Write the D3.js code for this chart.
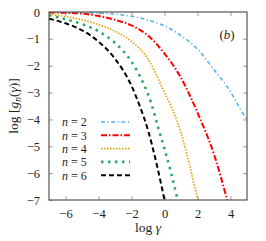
<!DOCTYPE html>
<html>
<head>
<meta charset="utf-8">
<script src="https://cdn.jsdelivr.net/npm/d3@7"></script>
<style>
  body { margin: 0; background: #fff; }
  text { font-family: "Liberation Serif", "DejaVu Serif", serif; }
</style>
</head>
<body>
<svg id="chart" width="266" height="241"></svg>
<script>
// values (log gamma, log g_n)
const logGamma2 = [-7, -5, -4, -3, -2, -1, 0, 1, 2, 3, 4, 4.5, 5];
const logG2 = [-0.01, -0.02, -0.04, -0.08, -0.16, -0.3, -0.52, -0.88, -1.38, -2.15, -2.97, -3.52, -4.02];
const logGamma3 = [-7, -6, -5, -4, -3, -2, -1, 0, 1, 2, 3, 3.8];
const logG3 = [-0.02, -0.03, -0.06, -0.15, -0.29, -0.5, -0.88, -1.55, -2.45, -3.75, -5.3, -7];
const logGamma4 = [-7, -6, -5, -4, -3, -2, -1, 0, 0.5, 1, 1.5, 2, 2.05];
const logG4 = [-0.08, -0.17, -0.29, -0.47, -0.72, -1.1, -1.75, -3.0, -3.65, -4.5, -5.65, -6.9, -7];
const logGamma5 = [-7, -6, -5, -4, -3, -2, -1.2, -0.8, -0.4, 0, 0.4, 0.8];
const logG5 = [-0.12, -0.27, -0.45, -0.72, -1.15, -1.85, -2.77, -3.4, -4.27, -5.1, -6.0, -7.0];
const logGamma6 = [-7, -6, -5, -4, -3, -2, -1.5, -1, -0.5, 0];
const logG6 = [-0.25, -0.42, -0.68, -1.1, -1.74, -2.75, -3.5, -4.4, -5.6, -7];

const seriesN = ['2', '3', '4', '5', '6'];
const xTicks = [-6, -4, -2, 0, 2, 4];
const yTicks = [0, -1, -2, -3, -4, -5, -6, -7];

const series = [
    { n: seriesN[0], x: logGamma2, y: logG2, color: '#56b4e9', width: 1.6, dash: '4,2.5,1.2,2.5' },
    { n: seriesN[1], x: logGamma3, y: logG3, color: '#ff0000', width: 2, dash: '6,2,1.5,2' },
    { n: seriesN[2], x: logGamma4, y: logG4, color: '#e69f00', width: 1.6, dash: '1.5,1.5' },
    { n: seriesN[3], x: logGamma5, y: logG5, color: '#2ca86a', width: 2.6, dash: '2.5,4.5' },
    { n: seriesN[4], x: logGamma6, y: logG6, color: '#000000', width: 2, dash: '5,3' }
];

const margin = { left: 49, top: 12, right: 19, bottom: 41 };
const width = 266, height = 241;
const svg = d3.select('#chart');

const x = d3.scaleLinear().domain([-7, 5]).range([margin.left, width - margin.right]);
const y = d3.scaleLinear().domain([-7, 0]).range([height - margin.bottom, margin.top]);

svg.append('clipPath').attr('id', 'clip')
    .append('rect')
    .attr('x', x(-7)).attr('y', y(0))
    .attr('width', x(5) - x(-7)).attr('height', y(-7) - y(0));

const minus = d => d3.format('')(d).replace('-', '\u2212');

// inward ticks on all four sides
const tickLen = 4;
const tickColor = '#b0b0b0';
svg.append('g')
    .attr('transform', `translate(0,${y(-7)})`)
    .call(d3.axisBottom(x).tickValues(xTicks).tickSizeInner(-tickLen).tickSizeOuter(0).tickPadding(9).tickFormat(minus))
    .call(g => g.select('.domain').remove())
    .call(g => g.selectAll('line').attr('stroke', tickColor).attr('stroke-width', 1.2))
    .call(g => g.selectAll('text').attr('font-size', 12.5).attr('fill', '#222'));
svg.append('g')
    .attr('transform', `translate(0,${y(0)})`)
    .call(d3.axisTop(x).tickValues(xTicks).tickSizeInner(-tickLen).tickSizeOuter(0).tickFormat(''))
    .call(g => g.select('.domain').remove())
    .call(g => g.selectAll('line').attr('stroke', tickColor).attr('stroke-width', 1.2));
svg.append('g')
    .attr('transform', `translate(${x(-7)},0)`)
    .call(d3.axisLeft(y).tickValues(yTicks).tickSizeInner(-tickLen).tickSizeOuter(0).tickPadding(9).tickFormat(minus))
    .call(g => g.select('.domain').remove())
    .call(g => g.selectAll('line').attr('stroke', tickColor).attr('stroke-width', 1.2))
    .call(g => g.selectAll('text').attr('font-size', 12.5).attr('fill', '#222'));
svg.append('g')
    .attr('transform', `translate(${x(5)},0)`)
    .call(d3.axisRight(y).tickValues(yTicks.slice(1, -1)).tickSizeInner(-tickLen).tickSizeOuter(0).tickFormat(''))
    .call(g => g.select('.domain').remove())
    .call(g => g.selectAll('line').attr('stroke', tickColor).attr('stroke-width', 1.2));

// curves
const line = d3.line()
    .x(d => x(d[0]))
    .y(d => y(d[1]))
    .curve(d3.curveMonotoneX);

svg.append('g').attr('clip-path', 'url(#clip)')
    .selectAll('path')
    .data(series)
    .join('path')
    .attr('d', s => line(s.x.map((v, i) => [v, s.y[i]])))
    .attr('fill', 'none')
    .attr('stroke', s => s.color)
    .attr('stroke-width', s => s.width)
    .attr('stroke-dasharray', s => s.dash);

// frame
svg.append('rect')
    .attr('x', x(-7)).attr('y', y(0))
    .attr('width', x(5) - x(-7)).attr('height', y(-7) - y(0))
    .attr('fill', 'none')
    .attr('stroke', '#555')
    .attr('stroke-width', 1.2);

// legend
const rows = svg.append('g')
    .selectAll('g')
    .data(series)
    .join('g')
    .attr('transform', (d, i) => `translate(0,${122 + i * 13.3})`);
rows.append('text')
    .attr('x', 62).attr('y', 4.3)
    .attr('font-size', 12)
    .attr('fill', '#222')
    .html(d => `<tspan font-style="italic">n</tspan> = ${d.n}`);
rows.append('line')
    .attr('x1', 101).attr('x2', 130)
    .attr('stroke', d => d.color)
    .attr('stroke-width', d => d.width)
    .attr('stroke-dasharray', d => d.dash);

// panel label
svg.append('text')
    .attr('x', 227).attr('y', 39)
    .attr('text-anchor', 'middle')
    .attr('font-size', 13)
    .attr('fill', '#222')
    .html('(<tspan font-style="italic">b</tspan>)');

// axis titles
svg.append('text')
    .attr('x', x(-1)).attr('y', 232)
    .attr('text-anchor', 'middle')
    .attr('font-size', 13.5)
    .attr('fill', '#222')
    .html('log <tspan font-style="italic">γ</tspan>');
svg.append('text')
    .attr('transform', `translate(18,${y(-3.5)}) rotate(-90)`)
    .attr('text-anchor', 'middle')
    .attr('font-size', 13.5)
    .attr('fill', '#222')
    .html('log [<tspan font-style="italic">g</tspan><tspan font-style="italic" font-size="9.5" dy="3">n</tspan><tspan dy="-3">(</tspan><tspan font-style="italic">γ</tspan>)]');
</script>
</body>
</html>
